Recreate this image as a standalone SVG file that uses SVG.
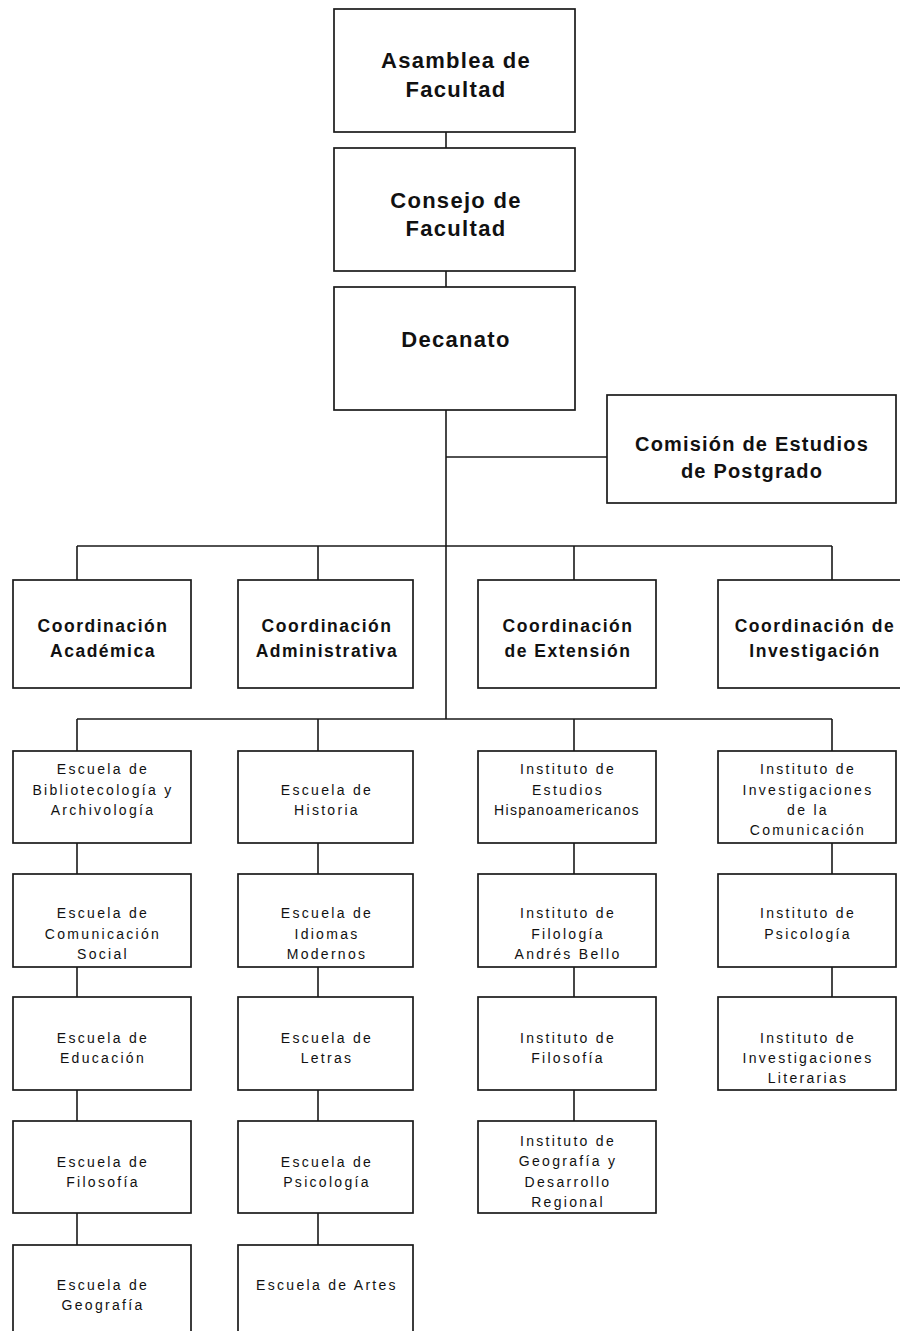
<svg xmlns="http://www.w3.org/2000/svg" width="900" height="1331" viewBox="0 0 900 1331">
<style>
.box{fill:#fff;stroke:#1a1a1a;stroke-width:1.7}
.ln{fill:none;stroke:#1a1a1a;stroke-width:1.6}
.big{font-family:"Liberation Sans",Arial,sans-serif;font-weight:bold;font-size:22px;letter-spacing:1.3px;fill:#111;text-anchor:middle}
.mid{font-family:"Liberation Sans",Arial,sans-serif;font-weight:bold;font-size:20px;letter-spacing:1.2px;fill:#111;text-anchor:middle}
.crd{font-family:"Liberation Sans",Arial,sans-serif;font-weight:bold;font-size:17.5px;letter-spacing:1.5px;fill:#111;text-anchor:middle}
.sm{font-family:"Liberation Sans",Arial,sans-serif;font-size:14px;letter-spacing:2.3px;fill:#111;text-anchor:middle}
</style>
<rect width="900" height="1331" fill="#fff"/>
<g id="connectors">
<path class="ln" d="M446 132V148M446 271V287M446 410V719M446 457H607"/>
<path class="ln" d="M77 546H832M77 546V580M318 546V580M574 546V580M832 546V580"/>
<path class="ln" d="M77 719H832M77 719V751M318 719V751M574 719V751M832 719V751"/>
<path class="ln" d="M77 843V874M77 967V997M77 1090V1121M77 1213V1245"/>
<path class="ln" d="M318 843V874M318 967V997M318 1090V1121M318 1213V1245"/>
<path class="ln" d="M574 843V874M574 967V997M574 1090V1121"/>
<path class="ln" d="M832 843V874M832 967V997"/>
</g>
<g id="asamblea"><rect class="box" x="334" y="9" width="241" height="123"/><text class="big" x="456" y="68">Asamblea de</text><text class="big" x="456" y="97">Facultad</text></g>
<g id="consejo"><rect class="box" x="334" y="148" width="241" height="123"/><text class="big" x="456" y="208">Consejo de</text><text class="big" x="456" y="236">Facultad</text></g>
<g id="decanato"><rect class="box" x="334" y="287" width="241" height="123"/><text class="big" x="456" y="347">Decanato</text></g>
<g id="comision"><rect class="box" x="607" y="395" width="289" height="108"/><text class="mid" x="752" y="451">Comisión de Estudios</text><text class="mid" x="752" y="478">de Postgrado</text></g>
<g id="coord-academica"><rect class="box" x="13" y="580" width="178" height="108"/><text class="crd" x="103" y="632">Coordinación</text><text class="crd" x="103" y="657">Académica</text></g>
<g id="coord-administrativa"><rect class="box" x="238" y="580" width="175" height="108"/><text class="crd" x="327" y="632">Coordinación</text><text class="crd" x="327" y="657">Administrativa</text></g>
<g id="coord-extension"><rect class="box" x="478" y="580" width="178" height="108"/><text class="crd" x="568" y="632">Coordinación</text><text class="crd" x="568" y="657">de Extensión</text></g>
<g id="coord-investigacion"><rect class="box" x="718" y="580" width="228" height="108"/><text class="crd" x="815" y="632">Coordinación de</text><text class="crd" x="815" y="657">Investigación</text></g>
<g id="esc-biblio"><rect class="box" x="13" y="751" width="178" height="92"/><text class="sm" x="103" y="774">Escuela de</text><text class="sm" x="103" y="795">Bibliotecología y</text><text class="sm" x="103" y="815">Archivología</text></g>
<g id="esc-comunicacion"><rect class="box" x="13" y="874" width="178" height="93"/><text class="sm" x="103" y="918">Escuela de</text><text class="sm" x="103" y="939">Comunicación</text><text class="sm" x="103" y="959">Social</text></g>
<g id="esc-educacion"><rect class="box" x="13" y="997" width="178" height="93"/><text class="sm" x="103" y="1043">Escuela de</text><text class="sm" x="103" y="1063">Educación</text></g>
<g id="esc-filosofia"><rect class="box" x="13" y="1121" width="178" height="92"/><text class="sm" x="103" y="1167">Escuela de</text><text class="sm" x="103" y="1187">Filosofía</text></g>
<g id="esc-geografia"><rect class="box" x="13" y="1245" width="178" height="93"/><text class="sm" x="103" y="1290">Escuela de</text><text class="sm" x="103" y="1310">Geografía</text></g>
<g id="esc-historia"><rect class="box" x="238" y="751" width="175" height="92"/><text class="sm" x="327" y="795">Escuela de</text><text class="sm" x="327" y="815">Historia</text></g>
<g id="esc-idiomas"><rect class="box" x="238" y="874" width="175" height="93"/><text class="sm" x="327" y="918">Escuela de</text><text class="sm" x="327" y="939">Idiomas</text><text class="sm" x="327" y="959">Modernos</text></g>
<g id="esc-letras"><rect class="box" x="238" y="997" width="175" height="93"/><text class="sm" x="327" y="1043">Escuela de</text><text class="sm" x="327" y="1063">Letras</text></g>
<g id="esc-psicologia"><rect class="box" x="238" y="1121" width="175" height="92"/><text class="sm" x="327" y="1167">Escuela de</text><text class="sm" x="327" y="1187">Psicología</text></g>
<g id="esc-artes"><rect class="box" x="238" y="1245" width="175" height="93"/><text class="sm" x="327" y="1290">Escuela de Artes</text></g>
<g id="inst-hispano"><rect class="box" x="478" y="751" width="178" height="92"/><text class="sm" x="568" y="774">Instituto de</text><text class="sm" x="568" y="795">Estudios</text><text class="sm" x="567" y="815" style="letter-spacing:1.3px">Hispanoamericanos</text></g>
<g id="inst-filologia"><rect class="box" x="478" y="874" width="178" height="93"/><text class="sm" x="568" y="918">Instituto de</text><text class="sm" x="568" y="939">Filología</text><text class="sm" x="568" y="959">Andrés Bello</text></g>
<g id="inst-filosofia"><rect class="box" x="478" y="997" width="178" height="93"/><text class="sm" x="568" y="1043">Instituto de</text><text class="sm" x="568" y="1063">Filosofía</text></g>
<g id="inst-geografia"><rect class="box" x="478" y="1121" width="178" height="92"/><text class="sm" x="568" y="1146">Instituto de</text><text class="sm" x="568" y="1166">Geografía y</text><text class="sm" x="568" y="1187">Desarrollo</text><text class="sm" x="568" y="1207">Regional</text></g>
<g id="inst-comunicacion"><rect class="box" x="718" y="751" width="178" height="92"/><text class="sm" x="808" y="774">Instituto de</text><text class="sm" x="808" y="795">Investigaciones</text><text class="sm" x="808" y="815">de la</text><text class="sm" x="808" y="835">Comunicación</text></g>
<g id="inst-psicologia"><rect class="box" x="718" y="874" width="178" height="93"/><text class="sm" x="808" y="918">Instituto de</text><text class="sm" x="808" y="939">Psicología</text></g>
<g id="inst-literarias"><rect class="box" x="718" y="997" width="178" height="93"/><text class="sm" x="808" y="1043">Instituto de</text><text class="sm" x="808" y="1063">Investigaciones</text><text class="sm" x="808" y="1083">Literarias</text></g>
</svg>
